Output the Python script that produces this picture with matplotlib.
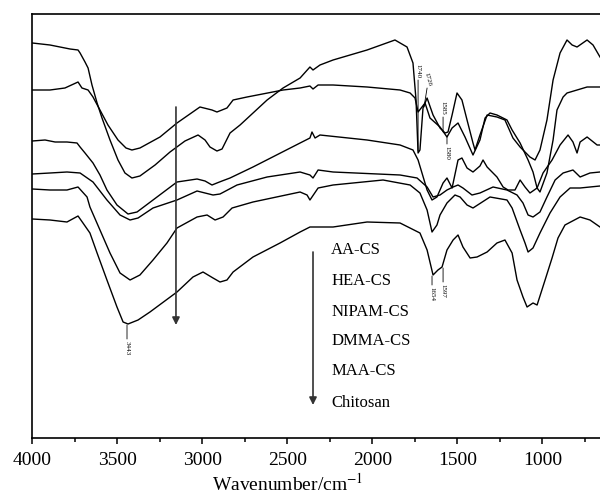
import matplotlib
matplotlib.use("Agg")
import matplotlib.pyplot as plt

plt.rcParams['font.family'] = ['Liberation Serif', 'DejaVu Serif']
plt.rcParams['mathtext.fontset'] = 'stix'

# FTIR spectra, wavenumber (cm-1) and transmittance (arbitrary, offset)
aa_wn = [4000, 3896, 3837, 3778, 3731, 3719, 3690, 3672, 3649, 3619, 3590, 3543, 3496, 3455,
         3414, 3367, 3278, 3190, 3102, 3025, 2984, 2955, 2914, 2884, 2837, 2778, 2619, 2525,
         2425, 2367, 2349, 2308, 2231, 2031, 1867, 1796, 1761, 1743, 1731, 1720, 1702, 1678,
         1643, 1602, 1572, 1555, 1531, 1502, 1473, 1443, 1408, 1396, 1367, 1325, 1267, 1220,
         1173, 1131, 1073, 1043, 1014, 973, 937, 896, 855, 825, 796, 737, 702, 661]
aa_t = [395, 393, 391, 389, 388, 385, 376, 370, 353, 335, 320, 298, 278, 265,
        260, 262, 273, 286, 297, 303, 298, 291, 287, 289, 305, 313, 338, 350,
        360, 371, 368, 373, 378, 388, 398, 391, 375, 338, 285, 288, 330, 340,
        323, 310, 305, 306, 323, 345, 338, 318, 295, 288, 303, 323, 321, 318,
        300, 291, 281, 278, 288, 318, 358, 385, 398, 393, 391, 398, 393, 381]

hea_wn = [4000, 3896, 3808, 3731, 3708, 3672, 3643, 3602, 3555, 3496, 3449, 3414, 3367, 3249,
          3149, 3014, 2943, 2914, 2855, 2819, 2737, 2525, 2425, 2367, 2349, 2319, 2231, 2031,
          1837, 1778, 1749, 1731, 1708, 1690, 1661, 1602, 1561, 1531, 1496, 1455, 1408, 1367,
          1337, 1308, 1267, 1208, 1178, 1131, 1084, 1055, 1031, 1014, 973, 937, 914, 878,
          855, 796, 737, 661]
hea_t = [348, 348, 350, 356, 350, 348, 341, 328, 313, 298, 290, 288, 290, 301,
         315, 331, 328, 326, 330, 338, 341, 348, 350, 352, 349, 353, 353, 351,
         348, 345, 340, 326, 331, 335, 320, 311, 301, 310, 315, 301, 283, 298,
         320, 325, 323, 318, 308, 295, 278, 266, 250, 246, 265, 298, 328, 341,
         345, 348, 351, 351]

nipam_wn = [4000, 3925, 3866, 3796, 3737, 3719, 3690, 3643, 3602, 3561, 3502, 3437, 3384, 3290,
            3149, 3031, 2984, 2943, 2914, 2884, 2837, 2702, 2425, 2367, 2355, 2337, 2308, 2031,
            1837, 1761, 1731, 1708, 1678, 1649, 1620, 1584, 1561, 1531, 1496, 1473, 1443, 1408,
            1367, 1349, 1325, 1296, 1267, 1231, 1202, 1161, 1131, 1102, 1073, 1031, 996, 943,
            896, 849, 820, 796, 778, 737, 678, 661]
nipam_t = [297, 298, 296, 296, 295, 291, 285, 275, 263, 248, 233, 224, 226, 238,
           256, 259, 257, 253, 255, 257, 260, 271, 295, 300, 306, 300, 303, 298,
           293, 288, 278, 265, 248, 238, 241, 255, 260, 250, 278, 280, 270, 266,
           272, 278, 271, 266, 261, 251, 248, 248, 258, 251, 245, 250, 265, 278,
           293, 303, 296, 285, 296, 301, 293, 293]

dmma_wn = [4000, 3896, 3796, 3719, 3643, 3561, 3484, 3425, 3378, 3290, 3149, 3031, 2984, 2937,
           2896, 2796, 2619, 2425, 2367, 2349, 2319, 2231, 1837, 1737, 1678, 1643, 1602, 1561,
           1525, 1496, 1467, 1414, 1367, 1290, 1208, 1149, 1114, 1084, 1055, 1014, 973, 925,
           878, 820, 778, 720, 661]
dmma_t = [264, 265, 266, 265, 256, 238, 223, 218, 220, 230, 238, 247, 245, 243,
          244, 253, 261, 266, 263, 260, 268, 266, 263, 260, 251, 241, 243, 248,
          251, 253, 250, 243, 245, 251, 248, 243, 235, 223, 221, 226, 241, 258,
          265, 268, 261, 265, 266]

maa_wn = [4000, 3896, 3796, 3731, 3678, 3661, 3602, 3543, 3484, 3425, 3367, 3290, 3208, 3149,
          3031, 2972, 2925, 2878, 2825, 2702, 2425, 2384, 2367, 2319, 2231, 1937, 1778, 1720,
          1678, 1649, 1620, 1602, 1561, 1514, 1484, 1443, 1408, 1308, 1208, 1178, 1131, 1102,
          1084, 1055, 1014, 955, 896, 837, 778, 720, 661]
maa_t = [249, 248, 248, 251, 241, 231, 208, 185, 165, 158, 163, 178, 195, 210,
         221, 223, 218, 221, 230, 236, 246, 243, 238, 250, 253, 258, 253, 245,
         228, 206, 213, 223, 235, 243, 241, 233, 230, 241, 238, 230, 208, 195,
         186, 190, 205, 225, 241, 250, 250, 251, 252]

cs_wn = [4000, 3896, 3796, 3731, 3702, 3661, 3619, 3561, 3502, 3466, 3437, 3378, 3308, 3149,
         3055, 2996, 2937, 2896, 2855, 2819, 2702, 2543, 2425, 2367, 2231, 2031, 1837, 1720,
         1678, 1643, 1614, 1590, 1561, 1525, 1496, 1467, 1425, 1384, 1325, 1267, 1220, 1178,
         1149, 1114, 1090, 1055, 1031, 984, 943, 908, 867, 778, 720, 661]
cs_t = [219, 218, 216, 222, 215, 205, 185, 158, 131, 116, 114, 118, 126, 146,
        161, 166, 160, 156, 158, 166, 181, 195, 206, 211, 211, 216, 215, 205,
        188, 163, 168, 171, 188, 198, 203, 191, 180, 181, 186, 195, 198, 185,
        158, 141, 131, 135, 133, 158, 180, 200, 213, 221, 218, 211]

names = ["AA-CS", "HEA-CS", "NIPAM-CS", "DMMA-CS", "MAA-CS", "Chitosan"]
spectra = [(aa_wn, aa_t), (hea_wn, hea_t), (nipam_wn, nipam_t),
           (dmma_wn, dmma_t), (maa_wn, maa_t), (cs_wn, cs_t)]

fig = plt.figure(figsize=(6, 4.95), dpi=100)
ax = fig.add_axes([32.3 / 600, 57 / 495, 1 - 32.3 / 600, 424 / 495])

for wn, t in spectra:
    ax.plot(wn, t, color='black', lw=1.0)

ax.set_xlim(4000, 661)
ax.set_ylim(0, 424)
ax.set_xticks(range(4000, 999, -500))
ax.set_xticks(range(3750, 700, -500), minor=True)
ax.set_yticks([])
ax.tick_params(axis='x', which='major', direction='out', length=4, width=1.1, pad=6, labelsize=14)
ax.tick_params(axis='x', which='minor', direction='out', length=3, width=1.1)
ax.spines['right'].set_visible(False)
for s in ['left', 'top', 'bottom']:
    ax.spines[s].set_linewidth(1.2)

ax.text(2500, -0.125, "Wavenumber/cm$^{-1}$", transform=ax.get_xaxis_transform(),
        ha='center', va='baseline', fontsize=14)

# legend-like labels with arrows
label_y = [188, 157, 126, 97, 67, 35]
for name, y in zip(names, label_y):
    ax.text(2243, y, name, fontsize=12, ha='left', va='center')

arrow_kw = dict(arrowstyle='-|>', color='#333333', lw=1.2, mutation_scale=11, shrinkA=0, shrinkB=0)
ax.annotate('', xy=(3155, 113), xytext=(3155, 331), arrowprops=arrow_kw)
ax.annotate('', xy=(2349, 33), xytext=(2349, 186), arrowprops=arrow_kw)

# peak labels
line_kw = dict(arrowstyle='-', color='black', lw=0.6, shrinkA=0, shrinkB=0)
peaks = [
    ("3443", 3443, 113, 99, 97, 'top', -90),
    ("1654", 1649, 162, 153, 151, 'top', -90),
    ("1597", 1584, 170, 156, 154, 'top', -90),
    ("1740", 1731, 287, 358, 360, 'bottom', -90),
    ("1585", 1584, 306, 321, 323, 'bottom', -90),
    ("1580", 1561, 302, 294, 292, 'top', -90),
]
for txt, x, y0, y1, yt, va, rot in peaks:
    ax.annotate('', xy=(x, y0), xytext=(x, y1), arrowprops=line_kw)
    ax.text(x, yt, txt, fontsize=5, rotation=rot, ha='center', va=va)
ax.annotate('', xy=(1696, 331), xytext=(1678, 350), arrowprops=line_kw)
ax.text(1672, 351, "1726", fontsize=5, rotation=-75, ha='center', va='bottom')

fig.savefig("out.png", dpi=100)
